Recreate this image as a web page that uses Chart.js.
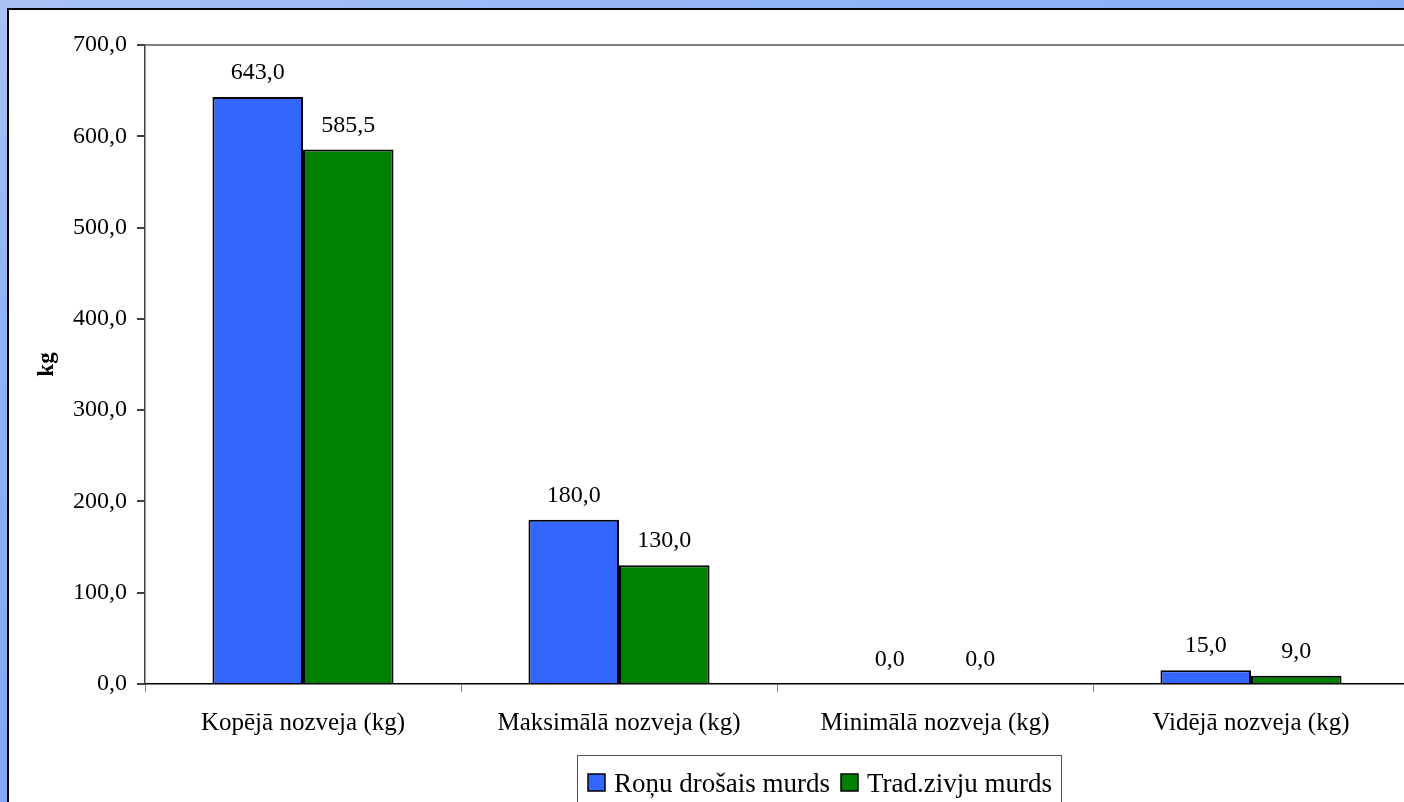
<!DOCTYPE html>
<html>
<head>
<meta charset="utf-8">
<script src="https://cdn.jsdelivr.net/npm/chart.js@4.4.1/dist/chart.umd.min.js"></script>
<style>
  html, body { margin: 0; padding: 0; overflow: hidden; }
  body { width: 1404px; height: 802px; position: relative;
         background: linear-gradient(160deg, #a9c2f5 0%, #8fb3f8 25%, #6f9cf4 100%); }
  #panel { position: absolute; left: 7px; top: 8px; width: 1500px; height: 900px;
           background: #fff; border-left: 2px solid #000; border-top: 2px solid #000; }
  #wrap { position: absolute; left: 0; top: 0; width: 1420px; height: 802px; }
</style>
</head>
<body>
<div id="panel"></div>
<div id="wrap"><canvas id="grafico" width="1420" height="802"></canvas></div>
<script>
// dados
const categorias = ['Kopējā nozveja (kg)', 'Maksimālā nozveja (kg)', 'Minimālā nozveja (kg)', 'Vidējā nozveja (kg)'];
const ronuDrosais = [643.0, 180.0, 0.0, 15.0];
const tradZivju = [585.5, 130.0, 0.0, 9.0];
const nomesSeries = ['Roņu drošais murds', 'Trad.zivju murds'];
const coresSeries = ['#3366ff', '#008000'];
const yMax = 700;
const yPasso = 100;

const serif = "'Liberation Serif', 'Times New Roman', serif";
const fmt = v => v.toFixed(1).replace('.', ',');

// rótulos de valor acima das barras
const rotulosPlugin = {
  id: 'rotulos',
  afterDatasetsDraw(chart) {
    const ctx = chart.ctx;
    ctx.save();
    ctx.font = '24px ' + serif;
    ctx.fillStyle = '#000';
    ctx.textAlign = 'center';
    ctx.textBaseline = 'alphabetic';
    chart.data.datasets.forEach((ds, i) => {
      chart.getDatasetMeta(i).data.forEach((bar, j) => {
        ctx.fillText(fmt(ds.data[j]), bar.x, bar.y - 18);
      });
    });
    ctx.restore();
  }
};

// legenda com moldura, como no original
const legendaPlugin = {
  id: 'legendaCaixa',
  afterDraw(chart) {
    const ctx = chart.ctx;
    const x0 = 577, y0 = 755, alt = 70;
    ctx.save();
    ctx.font = '27px ' + serif;
    let x = x0 + 11;
    const itens = chart.data.datasets.map(ds => ({ txt: ds.label, cor: ds.backgroundColor }));
    let larg = 11;
    itens.forEach((it, k) => { larg += 17 + 9 + ctx.measureText(it.txt).width + (k < itens.length - 1 ? 11 : 9); });
    ctx.fillStyle = '#fff';
    ctx.fillRect(x0, y0, larg, alt);
    ctx.strokeStyle = '#555';
    ctx.lineWidth = 1;
    ctx.strokeRect(x0 + 0.5, y0 + 0.5, larg, alt);
    ctx.textBaseline = 'alphabetic';
    ctx.textAlign = 'left';
    itens.forEach(it => {
      ctx.fillStyle = it.cor;
      ctx.fillRect(x, 774, 17, 17);
      ctx.strokeStyle = '#000';
      ctx.lineWidth = 1.5;
      ctx.strokeRect(x, 774, 17, 17);
      x += 17 + 9;
      ctx.fillStyle = '#000';
      ctx.fillText(it.txt, x, 792);
      x += ctx.measureText(it.txt).width + 11;
    });
    ctx.restore();
  }
};

new Chart(document.getElementById('grafico'), {
  type: 'bar',
  data: {
    labels: categorias,
    datasets: [
      { label: nomesSeries[0], data: ronuDrosais, backgroundColor: coresSeries[0], borderColor: '#000', borderWidth: 2 },
      { label: nomesSeries[1], data: tradZivju, backgroundColor: coresSeries[1], borderColor: '#000', borderWidth: 2 }
    ]
  },
  options: {
    responsive: false,
    animation: false,
    devicePixelRatio: 1,
    layout: { padding: { top: 45, right: 11, left: 0, bottom: 0 } },
    datasets: { bar: { categoryPercentage: 0.573, barPercentage: 1.0 } },
    plugins: { legend: { display: false }, tooltip: { enabled: false } },
    scales: {
      x: {
        afterFit: s => { s.height = 118; },
        grid: { offset: true, drawOnChartArea: false, tickLength: 8, tickColor: '#808080', lineWidth: 1 },
        border: { color: '#000', width: 1.5 },
        ticks: { font: { family: serif, size: 25 }, color: '#000', padding: 16, maxRotation: 0 }
      },
      y: {
        min: 0, max: yMax,
        afterFit: s => { s.width = 145; },
        grid: {
          color: c => (c.tick && c.tick.value === yMax ? '#808080' : 'transparent'),
          lineWidth: 2, tickLength: 8, tickColor: '#404040'
        },
        border: { color: '#404040', width: 1.5 },
        ticks: { stepSize: yPasso, font: { family: serif, size: 24 }, color: '#000', padding: 10, callback: v => fmt(v) },
        title: { display: true, text: 'kg', font: { family: serif, size: 23, weight: 'bold' }, color: '#000', padding: { top: 33 } }
      }
    }
  },
  plugins: [rotulosPlugin, legendaPlugin]
});
</script>
</body>
</html>
